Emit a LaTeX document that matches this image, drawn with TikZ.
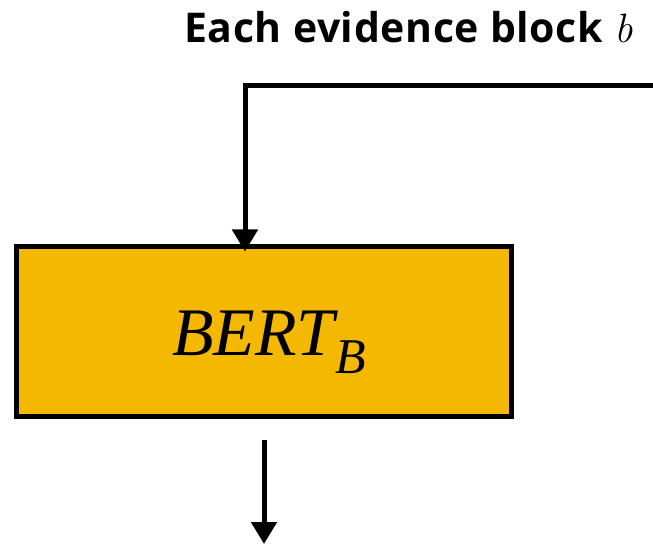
\documentclass[tikz,border=0pt]{standalone}
\usepackage{fontspec}
\setmainfont{Open Sans}
\newfontfamily\bertfont{Liberation Serif}
\newfontfamily\varfont{Latin Modern Roman}
\usetikzlibrary{arrows.meta}
\definecolor{bertfill}{HTML}{F5B800}

\begin{document}
\begin{tikzpicture}[x=1pt, y=-1pt,
  wire/.style={line width=5pt},
  flowtip/.style={-{Triangle[width=25pt,length=22pt]}},
  encoder/.style={draw, fill=bertfill, line width=5pt, inner sep=0pt,
    minimum width=495pt, minimum height=169pt},
  heading/.style={font=\fontsize{41}{44}\selectfont\bfseries, inner sep=0pt}]
  \useasboundingbox (0,0) rectangle (653,545);

  % heading
  \node[heading, anchor=base west] (title) at (184,43)
    {\addfontfeature{LetterSpace=1.5}Each evidence block {\varfont\mdseries\itshape b}};

  % encoder box
  \node[encoder] (bert) at (264,331.5) {};
  \node[anchor=base west, inner sep=0pt,
        font=\bertfont\itshape\fontsize{68}{70}\selectfont] (bertlabel) at (172,355)
    {BERT\hspace{1pt}\raisebox{-18pt}{\fontsize{50}{50}\selectfont B}};

  % input line from the right edge and output arrow
  \coordinate (in) at (653,85.5);
  \coordinate (drop) at (245,85.5);
  \coordinate (out) at (264,544);
  \draw[wire, flowtip] (in) -- (drop) -- ([xshift=-19pt, yshift=-7pt]bert.north);
  \draw[wire, flowtip] ([yshift=-21pt]bert.south) -- (out);
\end{tikzpicture}
\end{document}
